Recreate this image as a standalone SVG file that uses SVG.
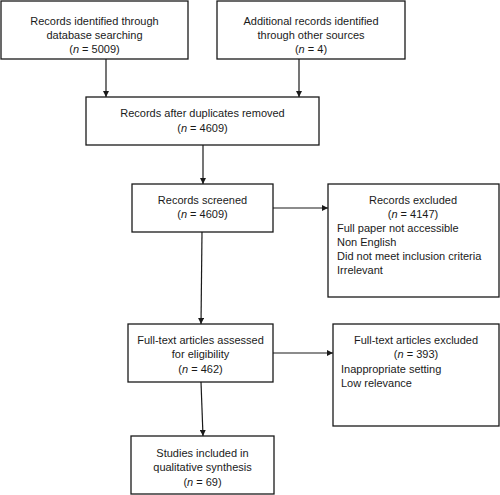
<svg xmlns="http://www.w3.org/2000/svg" width="500" height="495" viewBox="0 0 500 495">
<defs>
<marker id="ah" viewBox="0 0 10 10" refX="10" refY="5" markerWidth="6" markerHeight="6" markerUnits="userSpaceOnUse" orient="auto">
<path d="M0,0 L10,5 L0,10 z" fill="#1a1a1a"/>
</marker>
</defs>
<style>
.box{fill:#fff;stroke:#1a1a1a;stroke-width:1.3}
.t{font-family:"Liberation Sans",Arial,sans-serif;font-size:11px;fill:#1a1a1a}
.c{text-anchor:middle}
.edge{fill:none;stroke:#1a1a1a;stroke-width:1.2;marker-end:url(#ah)}
</style>
<rect width="500" height="495" fill="#fff"/>
<g id="connectors">
<line class="edge" x1="106" y1="59" x2="106" y2="97"/>
<line class="edge" x1="299" y1="59" x2="299" y2="97"/>
<line class="edge" x1="203" y1="145" x2="203" y2="184"/>
<line class="edge" x1="273" y1="208" x2="328" y2="208"/>
<line class="edge" x1="202" y1="232" x2="201" y2="324"/>
<line class="edge" x1="273" y1="353" x2="333" y2="353"/>
<line class="edge" x1="201" y1="382" x2="203" y2="436"/>
</g>
<g id="n1">
<rect class="box" x="1" y="1" width="187" height="58"/>
<text class="t c" x="94.5" y="25">Records identified through</text>
<text class="t c" x="94.5" y="39">database searching</text>
<text class="t c" x="94.5" y="53">(<tspan font-style="italic">n</tspan> = 5009)</text>
</g>
<g id="n2">
<rect class="box" x="217" y="1" width="188" height="58"/>
<text class="t c" x="311" y="25">Additional records identified</text>
<text class="t c" x="311" y="39">through other sources</text>
<text class="t c" x="311" y="53">(<tspan font-style="italic">n</tspan> = 4)</text>
</g>
<g id="n3">
<rect class="box" x="86" y="97" width="233" height="48"/>
<text class="t c" x="202.5" y="117">Records after duplicates removed</text>
<text class="t c" x="202.5" y="132">(<tspan font-style="italic">n</tspan> = 4609)</text>
</g>
<g id="n4">
<rect class="box" x="132" y="184" width="141" height="48"/>
<text class="t c" x="202.5" y="204">Records screened</text>
<text class="t c" x="202.5" y="218">(<tspan font-style="italic">n</tspan> = 4609)</text>
</g>
<g id="n5">
<rect class="box" x="328" y="184" width="171" height="113"/>
<text class="t c" x="413" y="204">Records excluded</text>
<text class="t c" x="413" y="218">(<tspan font-style="italic">n</tspan> = 4147)</text>
<text class="t" x="337" y="232">Full paper not accessible</text>
<text class="t" x="337" y="246">Non English</text>
<text class="t" x="337" y="260">Did not meet inclusion criteria</text>
<text class="t" x="337" y="274">Irrelevant</text>
</g>
<g id="n6">
<rect class="box" x="128" y="324" width="145" height="58"/>
<text class="t c" x="200.5" y="344">Full-text articles assessed</text>
<text class="t c" x="200.5" y="358">for eligibility</text>
<text class="t c" x="200.5" y="373">(<tspan font-style="italic">n</tspan> = 462)</text>
</g>
<g id="n7">
<rect class="box" x="333" y="324" width="166" height="102"/>
<text class="t c" x="416" y="344">Full-text articles excluded</text>
<text class="t c" x="416" y="358">(<tspan font-style="italic">n</tspan> = 393)</text>
<text class="t" x="341" y="373">Inappropriate setting</text>
<text class="t" x="341" y="387">Low relevance</text>
</g>
<g id="n8">
<rect class="box" x="131" y="436" width="143" height="58"/>
<text class="t c" x="202.5" y="457">Studies included in</text>
<text class="t c" x="202.5" y="471">qualitative synthesis</text>
<text class="t c" x="202.5" y="486">(<tspan font-style="italic">n</tspan> = 69)</text>
</g>
</svg>
